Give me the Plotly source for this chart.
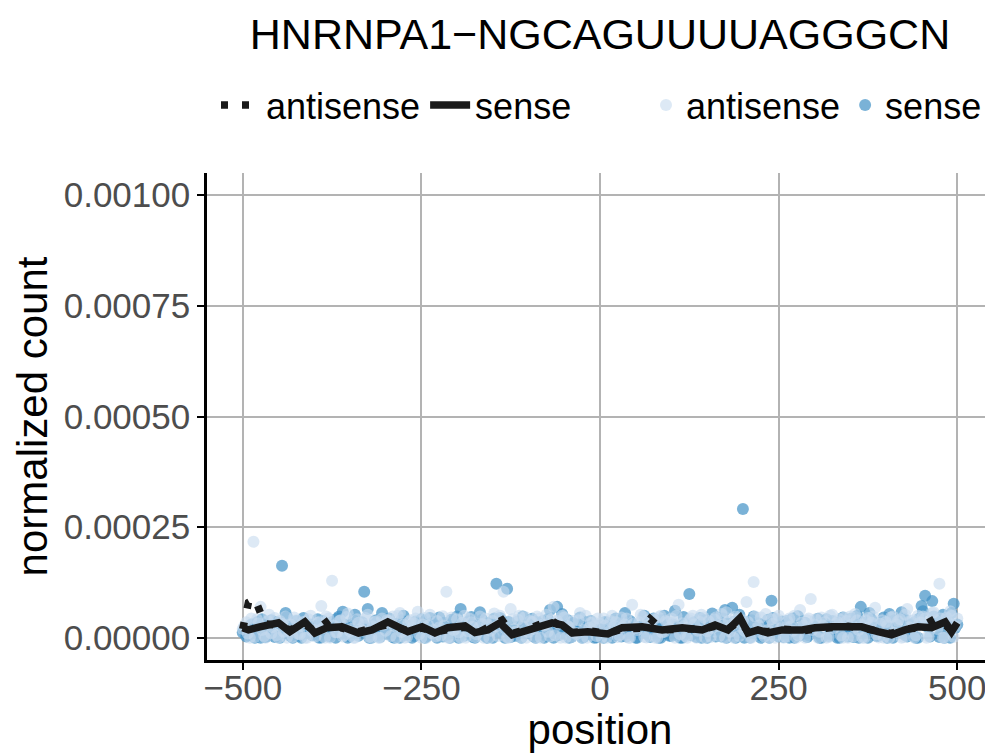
import plotly.graph_objects as go

# ---------------- data ----------------
positions = list(range(-500, 501, 5))
positions_b = list(range(-498, 500, 5))

# normalized counts, in units of 1e-6
sense_points_e6 = [
    12, 3, 8, 22, 35, 0, 28, 5, 40, 2, 33, 163, 56, 20, 0, 38, 4, 45, 12, 30,
    8, 42, 1, 26, 5, 36, 0, 48, 59, 14, 3, 40, 10, 27, 104, 65, 0, 38, 6, 56,
    24, 44, 2, 32, 0, 50, 9, 28, 4, 15, 42, 0, 7, 34, 26, 46, 3, 30, 0, 39,
    48, 65, 5, 36, 47, 0, 29, 41, 3, 33, 0, 122, 45, 18, 111, 2, 8, 37, 0, 14,
    31, 43, 0, 27, 38, 4, 63, 0, 70, 33, 9, 40, 2, 30, 14, 0, 36, 8, 22, 1,
    28, 0, 34, 20, 6, 38, 3, 56, 15, 32, 0, 10, 27, 36, 2, 44, 22, 0, 50, 30,
    4, 61, 26, 0, 12, 99, 34, 2, 45, 8, 0, 38, 17, 46, 3, 63, 24, 68, 0, 52,
    291, 35, 1, 48, 22, 0, 9, 41, 84, 19, 3, 37, 12, 0, 44, 20, 6, 29, 2, 15,
    26, 43, 0, 32, 4, 38, 8, 0, 46, 17, 34, 2, 50, 70, 13, 0, 41, 19, 5, 36,
    10, 54, 0, 38, 16, 44, 3, 8, 35, 0, 72, 95, 28, 83, 40, 2, 52, 33, 0, 77, 30,
]
sense_points_b_e6 = [
    18, 6, 30, 0, 14, 42, 2, 25, 9, 36, 0, 20, 47, 4, 28, 11, 0, 33, 19, 6,
    27, 0, 38, 13, 3, 22, 44, 8, 30, 0, 17, 52, 5, 35, 12, 0, 26, 40, 2, 21,
    9, 31, 0, 18, 40, 6, 24, 0, 37, 12, 28, 3, 45, 16, 0, 22, 34, 7, 41, 11,
    0, 26, 14, 38, 2, 20, 58, 9, 0, 30, 44, 13, 25, 0, 36, 19, 5, 28, 48, 10,
    22, 3, 35, 16, 0, 42, 11, 28, 6, 54, 20, 0, 33, 14, 46, 2, 24, 38, 0, 17,
    8, 36, 21, 0, 44, 13, 29, 3, 38, 18, 0, 26, 50, 7, 32, 15, 0, 40, 22, 5,
    30, 12, 0, 47, 20, 6, 35, 24, 0, 40, 16, 55, 3, 28, 44, 0, 19, 36, 9, 26,
    0, 22, 40, 10, 33, 4, 26, 0, 45, 14, 30, 2, 38, 21, 0, 49, 12, 34, 6, 24,
    15, 0, 32, 42, 8, 25, 0, 37, 18, 3, 44, 27, 0, 35, 12, 56, 20, 4, 30, 46,
    0, 24, 40, 12, 58, 6, 30, 18, 0, 44, 60, 26, 3, 48, 35, 10, 0, 38, 56, 22,
]
antisense_points_e6 = [
    20, 35, 0, 217, 42, 70, 4, 38, 10, 45, 0, 32, 48, 16, 2, 40, 8, 36, 0, 50,
    18, 34, 72, 0, 44, 129, 12, 38, 3, 47, 15, 0, 42, 20, 30, 52, 1, 36, 0, 44,
    16, 38, 48, 0, 56, 30, 2, 40, 33, 59, 0, 45, 28, 10, 3, 24, 49, 104, 0, 18,
    42, 0, 50, 15, 35, 2, 22, 31, 44, 0, 38, 26, 50, 104, 1, 65, 20, 41, 0, 47,
    13, 36, 0, 44, 30, 52, 3, 70, 38, 0, 46, 27, 2, 12, 40, 0, 50, 23, 36, 4,
    32, 44, 0, 38, 27, 2, 46, 30, 0, 75, 22, 35, 48, 1, 30, 42, 0, 50, 14, 36,
    44, 0, 75, 33, 3, 40, 50, 0, 36, 46, 15, 2, 42, 27, 54, 0, 38, 30, 48, 4,
    40, 81, 0, 126, 22, 46, 3, 18, 42, 0, 50, 24, 2, 44, 16, 0, 63, 28, 40, 88,
    30, 0, 46, 36, 2, 52, 32, 42, 0, 38, 48, 3, 40, 30, 0, 45, 34, 68, 1, 40,
    36, 0, 48, 30, 42, 2, 65, 38, 0, 50, 34, 44, 3, 56, 40, 122, 0, 46, 60, 2, 44,
]
antisense_points_b_e6 = [
    26, 10, 44, 2, 33, 18, 0, 52, 24, 6, 38, 14, 0, 30, 46, 9, 27, 0, 42, 16,
    3, 36, 22, 48, 0, 28, 12, 40, 6, 55, 20, 0, 34, 16, 45, 2, 26, 38, 0, 30,
    40, 4, 27, 50, 13, 0, 36, 22, 44, 8, 30, 0, 52, 18, 38, 5, 28, 0, 46, 20,
    12, 34, 0, 44, 25, 8, 48, 0, 30, 16, 55, 4, 36, 22, 0, 42, 14, 50, 26, 0,
    38, 20, 48, 0, 28, 14, 42, 6, 32, 50, 0, 24, 38, 8, 56, 18, 0, 34, 26, 44,
    0, 28, 14, 50, 36, 6, 24, 44, 0, 32, 18, 52, 2, 40, 26, 0, 46, 12, 38, 22,
    34, 50, 8, 26, 0, 44, 30, 16, 52, 0, 38, 22, 46, 4, 30, 58, 14, 0, 42, 26,
    16, 36, 0, 48, 28, 10, 54, 0, 32, 44, 20, 0, 38, 26, 50, 6, 34, 0, 44, 18,
    42, 14, 28, 0, 50, 22, 36, 6, 46, 0, 30, 54, 18, 0, 40, 24, 48, 8, 32, 0,
    28, 46, 12, 38, 0, 52, 24, 40, 6, 34, 48, 0, 30, 58, 20, 44, 0, 36, 50, 26,
]

sense_line_pos = [-500, -492, -476, -450, -434, -413, -399, -382, -361, -338, -319, -297,
                  -269, -249, -231, -213, -189, -175, -157, -140, -123, -101, -67, -53,
                  -39, -17, 11, 31, 59, 87, 115, 143, 161, 179, 196, 207, 221, 235, 255,
                  283, 301, 324, 347, 366, 389, 408, 427, 445, 464, 483, 492, 500]
sense_line_e6 = [23, 18, 25, 34, 14, 36, 11, 23, 25, 11, 18, 36,
                 14, 25, 11, 23, 27, 12, 18, 34, 7, 18, 34, 29,
                 11, 14, 9, 23, 25, 18, 23, 18, 29, 18, 45, 11, 18, 11, 18,
                 18, 23, 25, 23, 25, 14, 7, 18, 25, 23, 36, 14, 34]

antisense_line_pos = [-500, -492, -483, -469, -450, -434, -413, -399, -375, -361, -338,
                      -319, -297, -269, -249, -231, -213, -189, -168, -137, -123, -101,
                      -69, -53, -39, -17, 11, 31, 59, 70, 87, 115, 143, 161, 179, 196,
                      207, 221, 235, 255, 283, 301, 324, 347, 366, 389, 408, 427, 445,
                      469, 483, 492, 500]
antisense_line_e6 = [20, 80, 88, 32, 28, 18, 30, 15, 45, 22, 14,
                     20, 30, 16, 22, 14, 20, 24, 14, 40, 10, 20,
                     40, 26, 12, 16, 10, 20, 22, 43, 18, 20, 20, 26, 20, 38,
                     14, 16, 14, 20, 16, 20, 22, 26, 22, 16, 10, 20, 22,
                     43, 30, 16, 30]

x_ticks = [-500, -250, 0, 250, 500]
y_ticks = [0.0, 0.00025, 0.0005, 0.00075, 0.001]

title_text = "HNRNPA1\u2212NGCAGUUUUAGGGCN"

E6 = 1e-6
antisense_x = positions + positions_b
antisense_y = [v * E6 for v in antisense_points_e6 + antisense_points_b_e6]
sense_x = positions + positions_b
sense_y = [v * E6 for v in sense_points_e6 + sense_points_b_e6]
sense_line = [v * E6 for v in sense_line_e6]
antisense_line = [v * E6 for v in antisense_line_e6]

FONT = "Liberation Sans, Arial, Helvetica, sans-serif"

# the page body adds an 8 px margin; the figure is sized to fill the rest
W, H = 985, 745

fig = go.Figure()

fig.add_trace(go.Scatter(
    x=sense_x, y=sense_y, mode="markers", name="sense",
    legend="legend2", legendrank=2,
    marker=dict(color="#4292c6", size=12, opacity=0.7, line=dict(width=0)),
))
fig.add_trace(go.Scatter(
    x=antisense_x, y=antisense_y, mode="markers", name="antisense",
    legend="legend2", legendrank=1,
    marker=dict(color="#c6dbef", size=12, opacity=0.6, line=dict(width=0)),
))
fig.add_trace(go.Scatter(
    x=antisense_line_pos, y=antisense_line, mode="lines", name="antisense",
    legend="legend", legendrank=1,
    line=dict(color="#1a1a1a", width=7.5, dash="7px,14px"),
))
fig.add_trace(go.Scatter(
    x=sense_line_pos, y=sense_line, mode="lines", name="sense",
    legend="legend", legendrank=2,
    line=dict(color="#1a1a1a", width=7.5),
))

legend_common = dict(orientation="h", yref="container", xref="container",
                     y=1 - 97 / H, yanchor="middle",
                     font=dict(size=36, color="black"), traceorder="normal",
                     bgcolor="rgba(0,0,0,0)", borderwidth=0)

fig.update_layout(
    width=W, height=H,
    margin=dict(l=199, r=0, t=165, b=93, autoexpand=False),
    paper_bgcolor="white", plot_bgcolor="white",
    font=dict(family=FONT, color="black"),
    title=dict(text=title_text, x=0.5, xref="paper", xanchor="center",
               y=1 - 26 / H, yref="container", yanchor="middle",
               font=dict(size=43, color="black")),
    legend=dict(x=208 / W, xanchor="left", itemwidth=40, **legend_common),
    legend2=dict(x=638 / W, xanchor="left", itemwidth=30, **legend_common),
    showlegend=True,
)

fig.update_xaxes(
    range=[-550, 550], tickvals=x_ticks, ticks="outside", ticklen=7, tickwidth=2,
    tickcolor="black", showline=True, linecolor="black", linewidth=2.5,
    showgrid=True, gridcolor="#b3b3b3", gridwidth=2, zeroline=False,
    automargin=False, ticklabelstandoff=-12,
    tickfont=dict(size=35, color="#4d4d4d"),
    title=dict(text="position", font=dict(size=42, color="black"), standoff=14),
)
fig.update_yaxes(
    range=[-0.00005, 0.00105], tickvals=y_ticks, tickformat=".5f",
    ticks="outside", ticklen=7, tickwidth=2, tickcolor="black",
    showline=True, linecolor="black", linewidth=2.5,
    showgrid=True, gridcolor="#b3b3b3", gridwidth=2, zeroline=False,
    automargin=False,
    tickfont=dict(size=35, color="#4d4d4d"),
    title=dict(text="normalized count", font=dict(size=42, color="black"), standoff=4),
)

fig.write_html("out.html")
